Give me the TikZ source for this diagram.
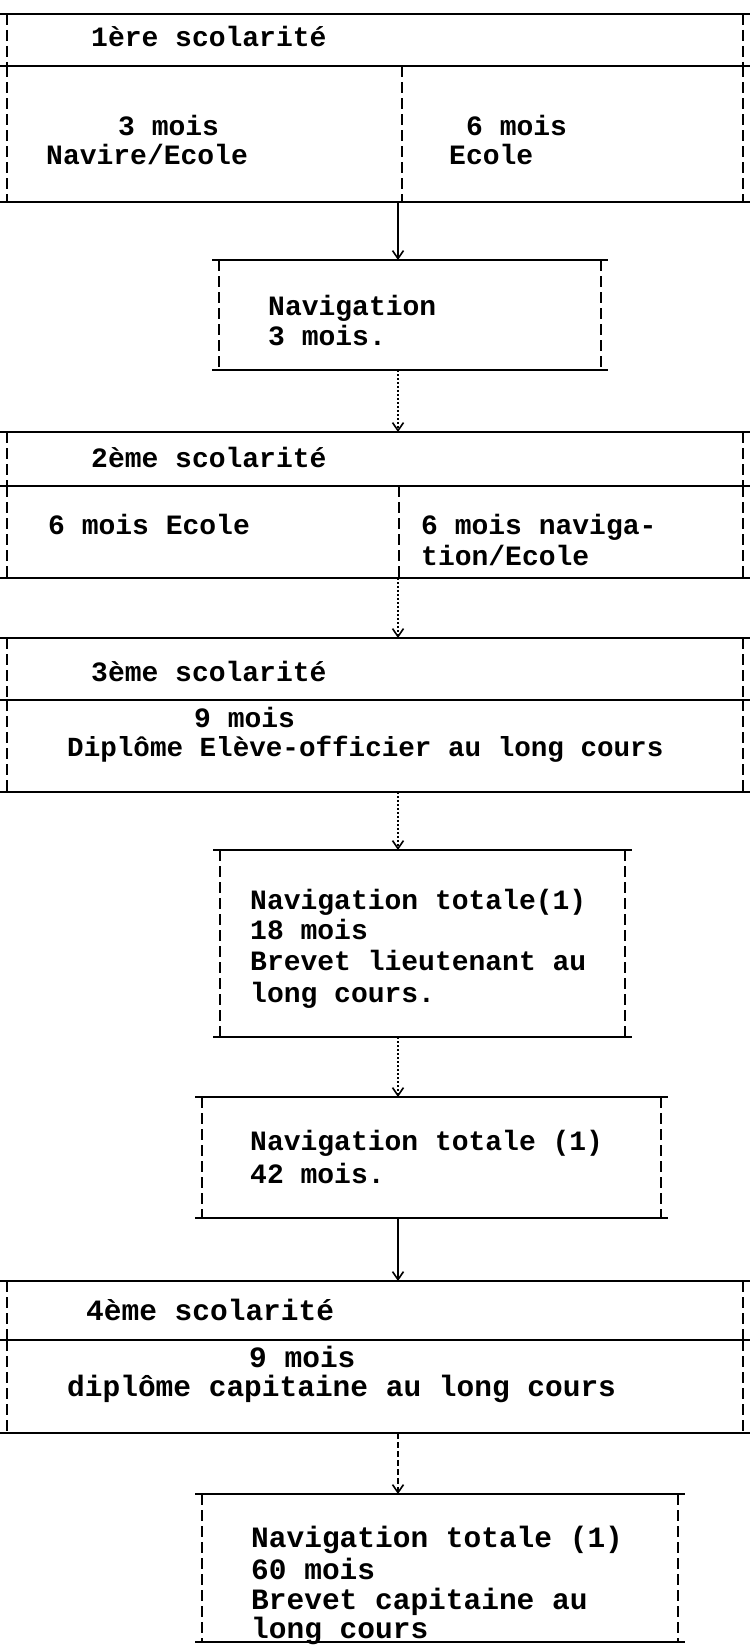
\documentclass[tikz,border=0pt]{standalone}
\usepackage{fontspec}
\newfontfamily\typew{Liberation Mono}
\usetikzlibrary{arrows.meta,fit}

% typed frame: solid rules top and bottom, dashed sides set in a little
\newcommand\frameit[1]{%
  \draw[hrule] (#1.north west) -- (#1.north east);
  \draw[hrule] (#1.south west) -- (#1.south east);
  \draw[vrule] ([xshift=7pt]#1.north west) -- ([xshift=7pt]#1.south west);
  \draw[vrule] ([xshift=-7pt]#1.north east) -- ([xshift=-7pt]#1.south east);}

\begin{document}
\begin{tikzpicture}[
  x=1pt, y=-1pt,
  panel/.style={inner sep=0pt, outer sep=0pt},
  hrule/.style={line width=2pt},
  vrule/.style={line width=2.8pt, dash pattern=on 11pt off 5pt},
  txt/.style={anchor=base west, inner sep=0pt, font=\typew\bfseries\fontsize{28}{31}\selectfont},
  bigtxt/.style={txt, font=\typew\bfseries\fontsize{29.5}{31}\selectfont},
  arr/.style={-{Straight Barb[length=8pt,width=11pt]}, line width=1.6pt},
  arrdot/.style={arr, dash pattern=on 2pt off 2pt}
]
\useasboundingbox (0,0) rectangle (750,1646);
\coordinate (spine) at (398,0);
\coordinate (colA) at (402,0);
\coordinate (colB) at (399,0);

% 1ere scolarite
\node[panel, fit={(0,14) (750,66)}] (sco1h) {};
\node[panel, fit={(0,66) (750,202)}] (sco1b) {};
\frameit{sco1h}
\frameit{sco1b}
\draw[vrule] (sco1b.north -| colA) -- (sco1b.south -| colA);
\node[txt] (t1h) at (91,47) {1ère scolarité};
\node[txt] (t1a) at (118,135) {3 mois};
\node[txt] (t1b) at (46,164) {Navire/Ecole};
\node[txt] (t1c) at (466,135) {6 mois};
\node[txt] (t1d) at (449,164) {Ecole};

% navigation 3 mois
\node[panel, fit={(212,260) (608,370)}] (nav1) {};
\frameit{nav1}
\node[txt] (t2a) at (268,315) {Navigation};
\node[txt] (t2b) at (268,345) {3 mois.};

% 2eme scolarite
\node[panel, fit={(0,432) (750,486)}] (sco2h) {};
\node[panel, fit={(0,486) (750,578)}] (sco2b) {};
\frameit{sco2h}
\frameit{sco2b}
\draw[vrule] (sco2b.north -| colB) -- (sco2b.south -| colB);
\node[txt] (t3h) at (91,467) {2ème scolarité};
\node[txt] (t3a) at (48,534) {6 mois Ecole};
\node[txt] (t3b) at (421,534) {6 mois naviga-};
\node[txt] (t3c) at (421,565) {tion/Ecole};

% 3eme scolarite
\node[panel, fit={(0,638) (750,700)}] (sco3h) {};
\node[panel, fit={(0,700) (750,792)}] (sco3b) {};
\frameit{sco3h}
\frameit{sco3b}
\node[txt] (t4h) at (91,681) {3ème scolarité};
\node[txt] (t4a) at (194,727) {9 mois};
\node[txt, font=\typew\bfseries\fontsize{27.6}{31}\selectfont] (t4b) at (67,756) {Diplôme Elève-officier au long cours};

% navigation 18 mois
\node[panel, fit={(213,850) (632,1037)}] (nav2) {};
\frameit{nav2}
\node[txt] (t5a) at (250,909) {Navigation totale(1)};
\node[txt] (t5b) at (250,939) {18 mois};
\node[txt] (t5c) at (250,970) {Brevet lieutenant au};
\node[txt] (t5d) at (250,1002) {long cours.};

% navigation 42 mois
\node[panel, fit={(195,1097) (668,1218)}] (nav3) {};
\frameit{nav3}
\node[txt] (t6a) at (250,1150) {Navigation totale (1)};
\node[txt] (t6b) at (250,1183) {42 mois.};

% 4eme scolarite
\node[panel, fit={(0,1281) (750,1340)}] (sco4h) {};
\node[panel, fit={(0,1340) (750,1433)}] (sco4b) {};
\frameit{sco4h}
\frameit{sco4b}
\node[bigtxt] (t7h) at (86,1320) {4ème scolarité};
\node[bigtxt] (t7a) at (249,1367) {9 mois};
\node[bigtxt] (t7b) at (67,1396) {diplôme capitaine au long cours};

% navigation 60 mois
\node[panel, fit={(195,1494) (685,1642)}] (nav4) {};
\frameit{nav4}
\node[bigtxt] (t8a) at (251,1547) {Navigation totale (1)};
\node[bigtxt] (t8b) at (251,1579) {60 mois};
\node[bigtxt] (t8c) at (251,1609) {Brevet capitaine au};
\node[bigtxt] (t8d) at (251,1638) {long cours};

% liaisons
\draw[arr] (sco1b.south -| spine) -- (nav1.north -| spine);
\draw[arrdot] (nav1.south -| spine) -- (sco2h.north -| spine);
\draw[arrdot] (sco2b.south -| spine) -- (sco3h.north -| spine);
\draw[arrdot] (sco3b.south -| spine) -- (nav2.north -| spine);
\draw[arrdot] (nav2.south -| spine) -- (nav3.north -| spine);
\draw[arr] (nav3.south -| spine) -- (sco4h.north -| spine);
\draw[arr, dash pattern=on 6pt off 3pt] (sco4b.south -| spine) -- (nav4.north -| spine);
\end{tikzpicture}
\end{document}
